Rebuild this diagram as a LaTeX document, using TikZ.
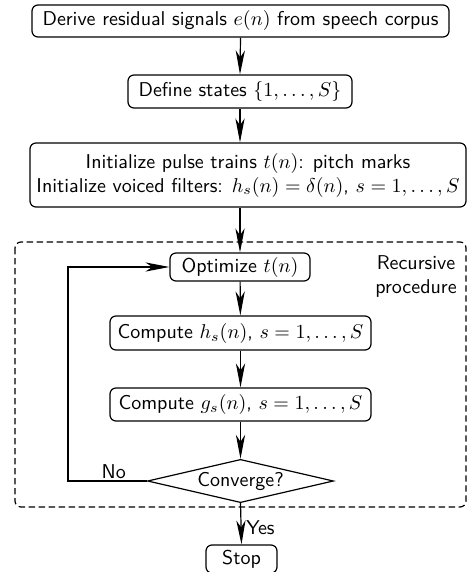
\documentclass[tikz,border=0pt]{standalone}
\usepackage{amsmath,amssymb}
\usepackage{tikz}
\usetikzlibrary{shapes,arrows.meta,positioning,calc}
\newlength{\pxu}
\setlength{\pxu}{0.5pt}

\begin{document}
\begin{tikzpicture}[
    x=\pxu, y=-\pxu,
    font=\sffamily,
    stepbox/.style={draw, rounded corners=3pt, inner sep=1.5pt, line width=0.6pt},
    decision/.style={diamond, draw, aspect=4.3, inner sep=1pt, line width=0.6pt},
    flow_edge/.style={-{Stealth[length=12pt, width=4.6pt, inset=3.5pt]}, line width=0.6pt},
    loop_box/.style={draw, dash pattern=on 3.2pt off 1.8pt, rounded corners=3pt, line width=0.6pt}
]
\useasboundingbox (0,0) rectangle (468,572);

% Initialisation steps
\node[stepbox, minimum width=417\pxu, minimum height=32\pxu] (derive) at (240.5, 21)
    {Derive residual signals $e(n)$ from speech corpus};
\node[stepbox, minimum width=224\pxu, minimum height=33\pxu] (states) at (240, 91.5)
    {Define states $\{1,\ldots,S\}$};
\node[stepbox, align=center, minimum width=436\pxu, minimum height=64\pxu] (init) at (248, 175)
    {Initialize pulse trains $t(n)$: pitch marks\\
     Initialize voiced filters: $h_s(n)=\delta(n)$, $s=1,\ldots,S$};

% Recursive part
\draw[loop_box] (15, 242) rectangle (466, 507);
\node[align=center] (reclabel) at (416, 276) {Recursive\\procedure};

\node[stepbox, minimum width=140\pxu, minimum height=28\pxu] (optimize) at (240, 267)
    {Optimize $t(n)$};
\node[stepbox, minimum width=261\pxu, minimum height=34\pxu] (computeh) at (240.5, 333)
    {Compute $h_s(n)$, $s=1,\ldots,S$};
\node[stepbox, minimum width=261\pxu, minimum height=33\pxu] (computeg) at (240.5, 404.5)
    {Compute $g_s(n)$, $s=1,\ldots,S$};
\node[decision, minimum width=175\pxu, minimum height=41\pxu] (converge) at (240.5, 481)
    {Converge?};

\node[stepbox, minimum width=71\pxu, minimum height=28\pxu] (stop) at (241.5, 559) {Stop};

\coordinate (back) at (68, 481);

% Connectors
\draw[flow_edge] (derive.south) -- (states.north);
\draw[flow_edge] (states.south) -- (states.south |- init.north);
\draw[flow_edge] (optimize.north |- init.south) -- (optimize.north);
\draw[flow_edge] (optimize) -- (computeh);
\draw[flow_edge] (computeh) -- (computeg);
\draw[flow_edge] (computeg) -- (converge);
\draw[flow_edge] (converge.south) -- (stop.north) node[pos=0.6, right, xshift=-1pt] {Yes};
\draw[flow_edge] (converge.west) -- (back) node[pos=0.42, above, yshift=-2.5pt] {No} |- (optimize.west);

\end{tikzpicture}
\end{document}
